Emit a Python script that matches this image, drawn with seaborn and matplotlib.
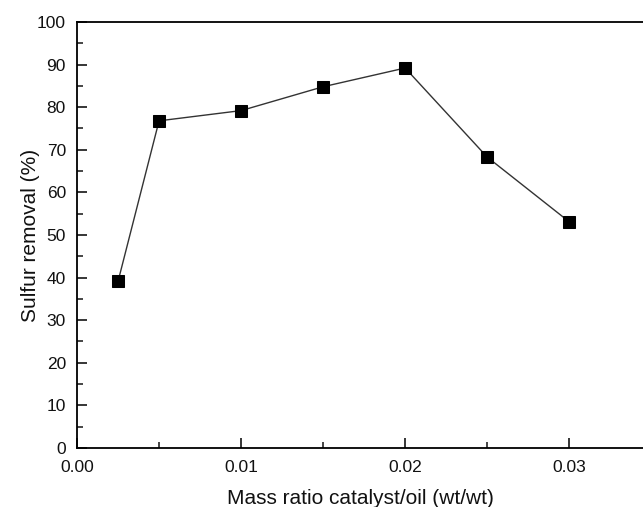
import matplotlib
matplotlib.use("Agg")
import matplotlib.pyplot as plt
import seaborn as sns
import pandas as pd
from matplotlib.ticker import MultipleLocator

mass_ratio = [0.0025, 0.005, 0.01, 0.015, 0.02, 0.025, 0.03]
sulfur_removal = [39.1, 76.8, 79.2, 84.8, 89.2, 68.3, 53.1]

df = pd.DataFrame({"ratio": mass_ratio, "removal": sulfur_removal})

sns.set_style("ticks")
plt.rcParams["font.family"] = ["Liberation Sans", "DejaVu Sans"]

fig = plt.figure(figsize=(6.43, 5.07), dpi=100)
ax = fig.add_axes([0.1198, 0.1164, 0.8802, 0.8402])

sns.lineplot(data=df, x="ratio", y="removal", ax=ax, color="#333333",
             linewidth=1.0, marker="s", markersize=9, markerfacecolor="black",
             markeredgecolor="black")

ax.set_xlim(0, 0.0345)
ax.set_ylim(0, 100)
ax.xaxis.set_major_locator(MultipleLocator(0.01))
ax.xaxis.set_minor_locator(MultipleLocator(0.005))
ax.yaxis.set_major_locator(MultipleLocator(10))
ax.yaxis.set_minor_locator(MultipleLocator(5))
ax.xaxis.set_major_formatter(matplotlib.ticker.FormatStrFormatter("%.2f"))

ax.tick_params(which="major", direction="in", length=7, width=1.3,
               labelsize=12.5, labelcolor="#111111")
ax.tick_params(which="minor", direction="in", length=4, width=1.2)
ax.tick_params(axis="x", pad=9)
ax.tick_params(axis="y", pad=8)

for s in ["left", "bottom", "top"]:
    ax.spines[s].set_linewidth(1.3)
    ax.spines[s].set_color("black")
ax.spines["right"].set_visible(False)

ax.set_xlabel("Mass ratio catalyst/oil (wt/wt)", fontsize=15, labelpad=10,
              color="#111111")
ax.set_ylabel("Sulfur removal (%)", fontsize=15, labelpad=-2, color="#111111")

fig.savefig("out.png", dpi=100)
